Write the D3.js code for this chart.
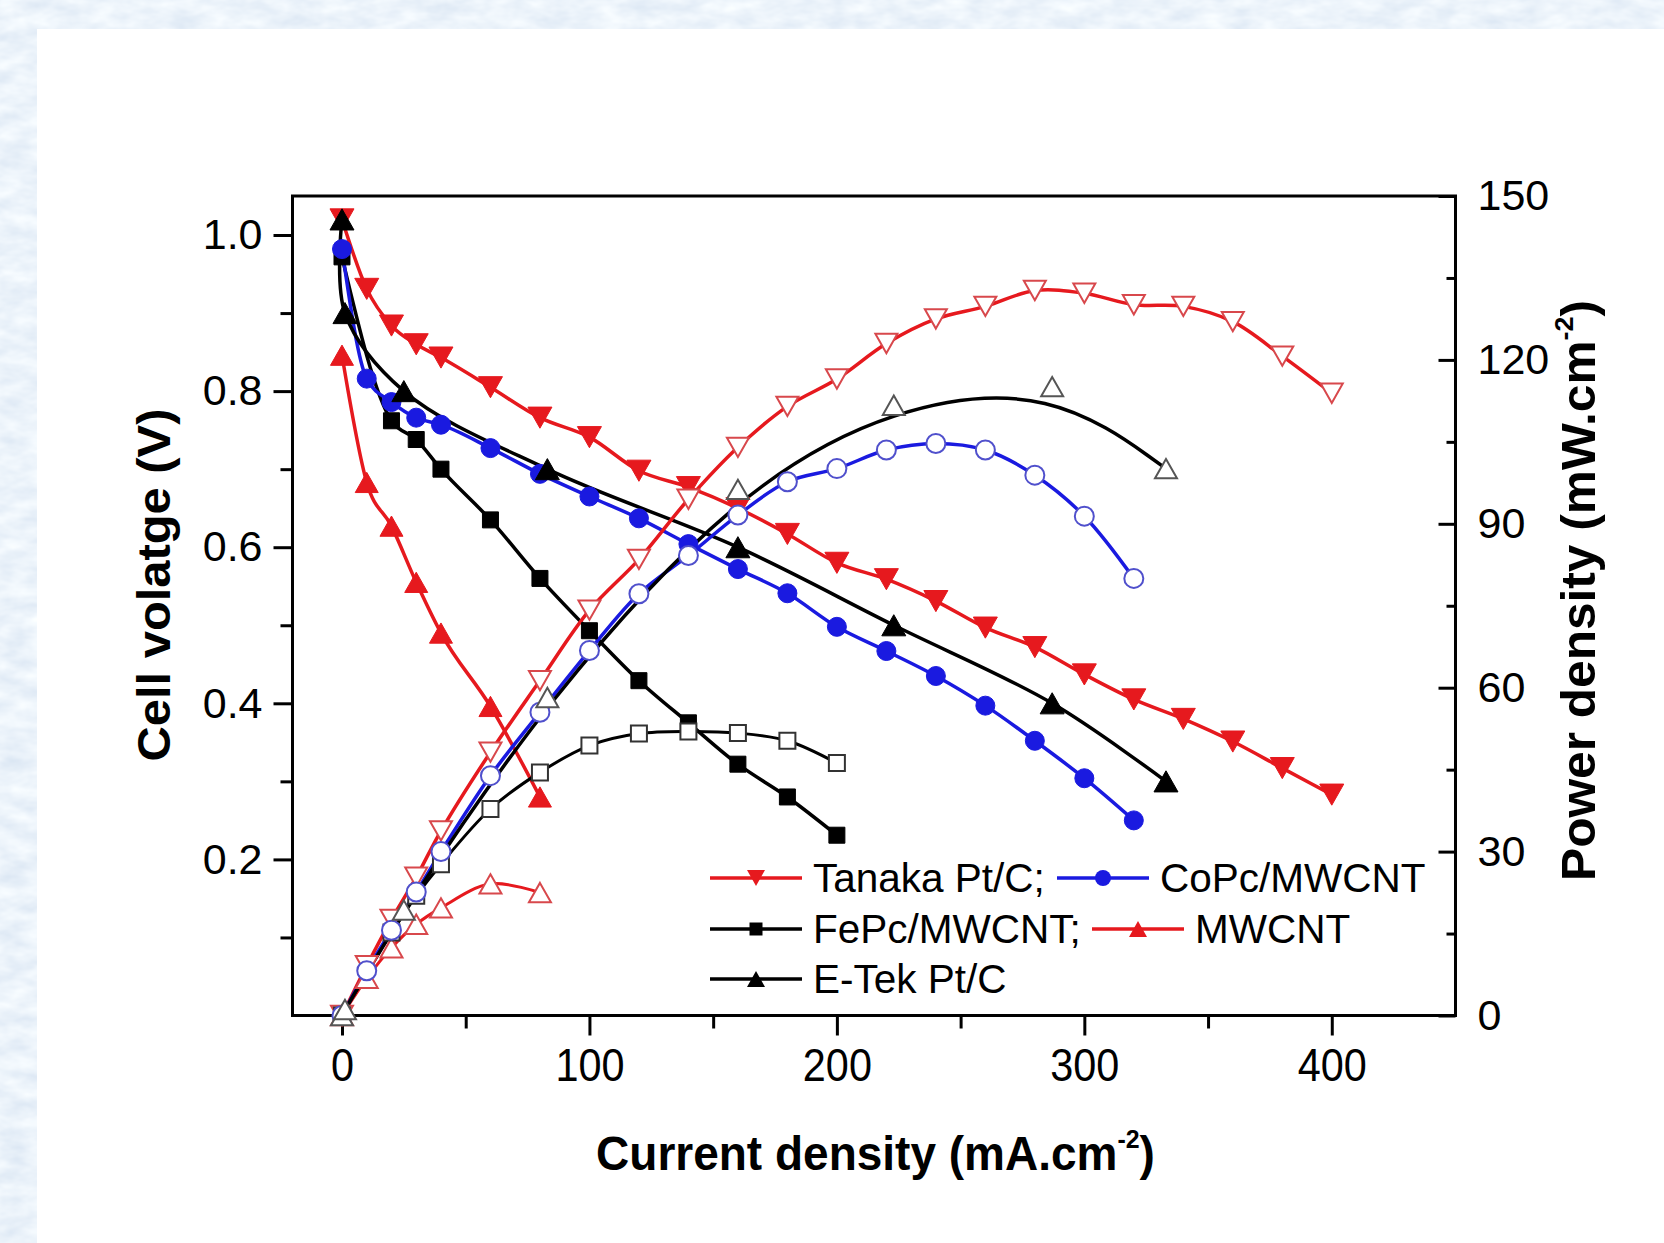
<!DOCTYPE html>
<html>
<head>
<meta charset="utf-8">
<script src="https://cdn.jsdelivr.net/npm/d3@7"></script>
<style>
  html, body { margin: 0; padding: 0; background: #fff; }
  svg { display: block; }
  text { font-family: "Liberation Sans", Arial, Helvetica, sans-serif; fill: #000; }
</style>
</head>
<body>
<svg id="chart" width="1664" height="1243"></svg>
<script>
// ---- Polarisation (V) and power density (P) data, current density in mA/cm2 ----
const currentTanaka = [0, 10, 20, 30, 40, 60, 80, 100, 120, 140, 160, 180, 200, 220, 240, 260, 280, 300, 320, 340, 360, 380, 400];
const voltageTanaka = [1.02, 0.931, 0.884, 0.860, 0.843, 0.805, 0.766, 0.741, 0.698, 0.677, 0.650, 0.617, 0.580, 0.559, 0.531, 0.497, 0.472, 0.437, 0.405, 0.380, 0.351, 0.317, 0.283];
const powerTanaka   = [0, 9.1, 17.6, 25.3, 33.8, 48.2, 61.3, 74.2, 83.5, 94.5, 104.0, 111.5, 116.5, 123.0, 127.5, 129.8, 132.7, 132.2, 130.1, 129.8, 127.0, 120.7, 113.9];

const currentCoPc = [0, 10, 20, 30, 40, 60, 80, 100, 120, 140, 160, 180, 200, 220, 240, 260, 280, 300, 320];
const voltageCoPc = [0.982, 0.816, 0.786, 0.766, 0.757, 0.727, 0.694, 0.665, 0.637, 0.604, 0.572, 0.541, 0.498, 0.467, 0.435, 0.397, 0.352, 0.304, 0.250];
const powerCoPc   = [0, 8.2, 15.6, 22.6, 30.0, 43.9, 55.5, 66.8, 77.2, 84.2, 91.6, 97.7, 100.1, 103.5, 104.7, 103.5, 98.9, 91.4, 80.0];

const currentFePc = [0, 20, 30, 40, 60, 80, 100, 120, 140, 160, 180, 200];
const voltageFePc = [0.972, 0.762, 0.738, 0.700, 0.635, 0.560, 0.493, 0.429, 0.375, 0.322, 0.280, 0.231];
const powerFePc   = [0, 15.2, 21.9, 27.7, 37.8, 44.5, 49.4, 51.6, 52.0, 51.7, 50.3, 46.2];

const currentMWCNT = [0, 10, 20, 30, 40, 60, 80];
const voltageMWCNT = [0.846, 0.683, 0.627, 0.555, 0.490, 0.396, 0.280];
const powerMWCNT   = [0, 6.8, 12.4, 16.7, 19.7, 24.1, 22.5];

const currentETek = [0, 1.2, 25, 83, 160, 223, 287, 333];
const voltageETek = [1.02, 0.90, 0.80, 0.70, 0.60, 0.50, 0.40, 0.30];
const powerETek   = [0, 1.1, 19.3, 58.2, 96.3, 111.7, 115.1, 100.1];

// ---- Axis ticks ----
const xMajorTicks = [0, 100, 200, 300, 400];
const xMinorTicks = [50, 150, 250, 350];
const vMajorTicks = [0.2, 0.4, 0.6, 0.8, 1.0];
const vMinorTicks = [0.1, 0.3, 0.5, 0.7, 0.9];
const pMajorTicks = [0, 30, 60, 90, 120, 150];
const pMinorTicks = [15, 45, 75, 105, 135];

(function draw() {
  // ---- Series styling ----
  const RED = "#e6191e", BLUE = "#1a1ae0", BLACK = "#000";
  const series = [
    { I: currentTanaka, V: voltageTanaka, P: powerTanaka, color: RED, marker: "triDown", size: 24,
      openStroke: "#d8484c", openSize: 22, vCurve: d3.curveMonotoneX, pCurve: d3.curveCatmullRom, pWidth: 3.5 },
    { I: currentMWCNT, V: voltageMWCNT, P: powerMWCNT, color: RED, marker: "triUp", size: 23,
      openStroke: "#d8484c", openSize: 22, vCurve: d3.curveMonotoneX, pCurve: d3.curveCatmullRom, pWidth: 3 },
    { I: currentFePc, V: voltageFePc, P: powerFePc, color: BLACK, marker: "square", size: 16,
      openStroke: "#333", openSize: 16, vCurve: d3.curveMonotoneX, pCurve: d3.curveCatmullRom, pWidth: 3 },
    { I: currentCoPc, V: voltageCoPc, P: powerCoPc, color: BLUE, marker: "circle", size: 19,
      openStroke: "#5050cc", openSize: 19, vCurve: d3.curveMonotoneX, pCurve: d3.curveCatmullRom, pWidth: 3.5 },
    { I: currentETek, V: voltageETek, P: powerETek, color: BLACK, marker: "triUp", size: 24,
      openStroke: "#555", openSize: 22, vCurve: d3.curveCatmullRom, pCurve: d3.curveBasis, pWidth: 3.5 }
  ];

  const W = 1664, H = 1243;
  const svg = d3.select("#chart");

  // ---- Page background: light blue paper with a white panel ----
  const defs = svg.append("defs");
  const paper = defs.append("filter").attr("id", "paper")
    .attr("x", 0).attr("y", 0).attr("width", "100%").attr("height", "100%");
  paper.append("feTurbulence").attr("type", "fractalNoise")
    .attr("baseFrequency", "0.035 0.07").attr("numOctaves", 3).attr("seed", 11).attr("result", "noise");
  paper.append("feColorMatrix").attr("in", "noise").attr("type", "matrix")
    .attr("values", "0.30 0 0 0 0.69  0.24 0 0 0 0.78  0.14 0 0 0 0.89  0 0 0 0 1");
  svg.append("rect").attr("width", W).attr("height", H).attr("fill", "#d7e5f4").attr("filter", "url(#paper)");
  svg.append("rect").attr("x", 37).attr("y", 29).attr("width", W - 37).attr("height", H - 29).attr("fill", "#fff");

  // ---- Scales ----
  const pl = 292.5, pr = 1455.5, pt = 196, pb = 1015.5;
  const x  = d3.scaleLinear().domain([-20, 450]).range([pl, pr]);
  const yV = d3.scaleLinear().domain([0, 1.05]).range([pb, pt]);
  const yP = d3.scaleLinear().domain([0, 150]).range([pb, pt]);

  // ---- Axes ----
  function styleAxis(g, fontSize) {
    g.select(".domain").remove();
    g.selectAll(".tick line").attr("stroke", "#000").attr("stroke-width", 3);
    g.selectAll(".tick text").attr("font-size", fontSize).attr("fill", "#000")
      .style("font-family", '"Liberation Sans", Arial, sans-serif');
  }
  const gx = svg.append("g").attr("transform", `translate(0,${pb})`)
    .call(d3.axisBottom(x).tickValues(xMajorTicks).tickSize(20).tickPadding(13).tickFormat(d3.format("d")))
    .call(g => styleAxis(g, 46));
  gx.selectAll(".tick text").attr("transform", "scale(0.9,1)");
  svg.append("g").attr("transform", `translate(0,${pb})`)
    .call(d3.axisBottom(x).tickValues(xMinorTicks).tickSize(13).tickFormat(""))
    .call(g => styleAxis(g, 0));

  svg.append("g").attr("transform", `translate(${pl},0)`)
    .call(d3.axisLeft(yV).tickValues(vMajorTicks).tickSize(19).tickPadding(11).tickFormat(d3.format(".1f")))
    .call(g => styleAxis(g, 43));
  svg.append("g").attr("transform", `translate(${pl},0)`)
    .call(d3.axisLeft(yV).tickValues(vMinorTicks).tickSize(12).tickFormat(""))
    .call(g => styleAxis(g, 0));

  svg.append("g").attr("transform", `translate(${pr},0)`)
    .call(d3.axisRight(yP).tickValues(pMajorTicks).tickSizeInner(-17).tickSizeOuter(0).tickPadding(22).tickFormat(d3.format("d")))
    .call(g => styleAxis(g, 43));
  svg.append("g").attr("transform", `translate(${pr},0)`)
    .call(d3.axisRight(yP).tickValues(pMinorTicks).tickSizeInner(-9).tickSizeOuter(0).tickFormat(""))
    .call(g => styleAxis(g, 0));

  // frame
  svg.append("rect").attr("x", pl).attr("y", pt).attr("width", pr - pl).attr("height", pb - pt)
    .attr("fill", "none").attr("stroke", "#000").attr("stroke-width", 3);

  // ---- Marker shapes ----
  function markerPath(type, s) {
    const h = s * 0.88;
    switch (type) {
      case "triUp":   return `M0,${-h / 2}L${s / 2},${h / 2}L${-s / 2},${h / 2}Z`;
      case "triDown": return `M0,${h / 2}L${s / 2},${-h / 2}L${-s / 2},${-h / 2}Z`;
      case "square":  return `M${-s / 2},${-s / 2}h${s}v${s}h${-s}Z`;
      default:        return d3.symbol(d3.symbolCircle, Math.PI * (s / 2) * (s / 2))();
    }
  }

  // ---- Curves and markers ----
  const plot = svg.append("g");
  const linesV = plot.append("g"), linesP = plot.append("g");
  const marksV = plot.append("g"), marksP = plot.append("g");

  series.forEach(s => {
    const vPts = s.I.map((c, i) => [c, s.V[i]]);
    const pPts = s.I.map((c, i) => [c, s.P[i]]);

    linesV.append("path").datum(vPts)
      .attr("d", d3.line().x(d => x(d[0])).y(d => yV(d[1])).curve(s.vCurve))
      .attr("fill", "none").attr("stroke", s.color).attr("stroke-width", 3.5).attr("stroke-linejoin", "round");
    linesP.append("path").datum(pPts)
      .attr("d", d3.line().x(d => x(d[0])).y(d => yP(d[1])).curve(s.pCurve))
      .attr("fill", "none").attr("stroke", s.color).attr("stroke-width", s.pWidth).attr("stroke-linejoin", "round");

    marksV.selectAll(null).data(vPts).join("path")
      .attr("transform", d => `translate(${x(d[0])},${yV(d[1])})`)
      .attr("d", markerPath(s.marker, s.size))
      .attr("fill", s.color).attr("stroke", s.color).attr("stroke-width", 1);
    marksP.selectAll(null).data(pPts).join("path")
      .attr("transform", d => `translate(${x(d[0])},${yP(d[1])})`)
      .attr("d", markerPath(s.marker, s.openSize))
      .attr("fill", "#fff").attr("stroke", s.openStroke).attr("stroke-width", 2);
  });

  // ---- Legend ----
  const legendRows = [
    { name: "Tanaka Pt/C;", color: RED,   marker: "triDown", size: 18, lx: 710,  ly: 878 },
    { name: "CoPc/MWCNT",   color: BLUE,  marker: "circle",  size: 16, lx: 1057, ly: 878 },
    { name: "FePc/MWCNT;",  color: BLACK, marker: "square",  size: 13, lx: 710,  ly: 929 },
    { name: "MWCNT",        color: RED,   marker: "triUp",   size: 18, lx: 1092, ly: 929 },
    { name: "E-Tek Pt/C",   color: BLACK, marker: "triUp",   size: 18, lx: 710,  ly: 979 }
  ];
  const legend = svg.append("g");
  legendRows.forEach(r => {
    const g = legend.append("g").attr("transform", `translate(${r.lx},${r.ly})`);
    g.append("line").attr("x1", 0).attr("x2", 92).attr("y1", 0).attr("y2", 0)
      .attr("stroke", r.color).attr("stroke-width", 3.5);
    g.append("path").attr("transform", "translate(46,0)").attr("d", markerPath(r.marker, r.size))
      .attr("fill", r.color);
    g.append("text").attr("x", 103).attr("y", 14).attr("font-size", 40.5).text(r.name);
  });

  // ---- Axis titles (fitted to their lengths) ----
  function title(tx, ty, rot, width, parts) {
    const g = svg.append("g").attr("transform", `translate(${tx},${ty}) rotate(${rot})`);
    const t = g.append("text").attr("text-anchor", "middle").attr("font-weight", "bold").attr("font-size", 48);
    t.append("tspan").text(parts[0]);
    t.append("tspan").attr("font-size", 26).attr("dy", -22).text(parts[1]);
    t.append("tspan").attr("dy", 22).text(parts[2]);
    const w = t.node().getBBox().width;
    t.attr("transform", `scale(${width / w},1)`);
  }
  title(875.5, 1170, 0, 559, ["Current density (mA.cm", "-2", ")"]);
  title(1595, 590.5, -90, 581, ["Power density (mW.cm", "-2", ")"]);

  const gL = svg.append("g").attr("transform", "translate(170,585) rotate(-90)");
  const tL = gL.append("text").attr("text-anchor", "middle").attr("font-weight", "bold").attr("font-size", 47)
    .text("Cell volatge (V)");
  tL.attr("transform", `scale(${353 / tL.node().getBBox().width},1)`);
})();
</script>
</body>
</html>
